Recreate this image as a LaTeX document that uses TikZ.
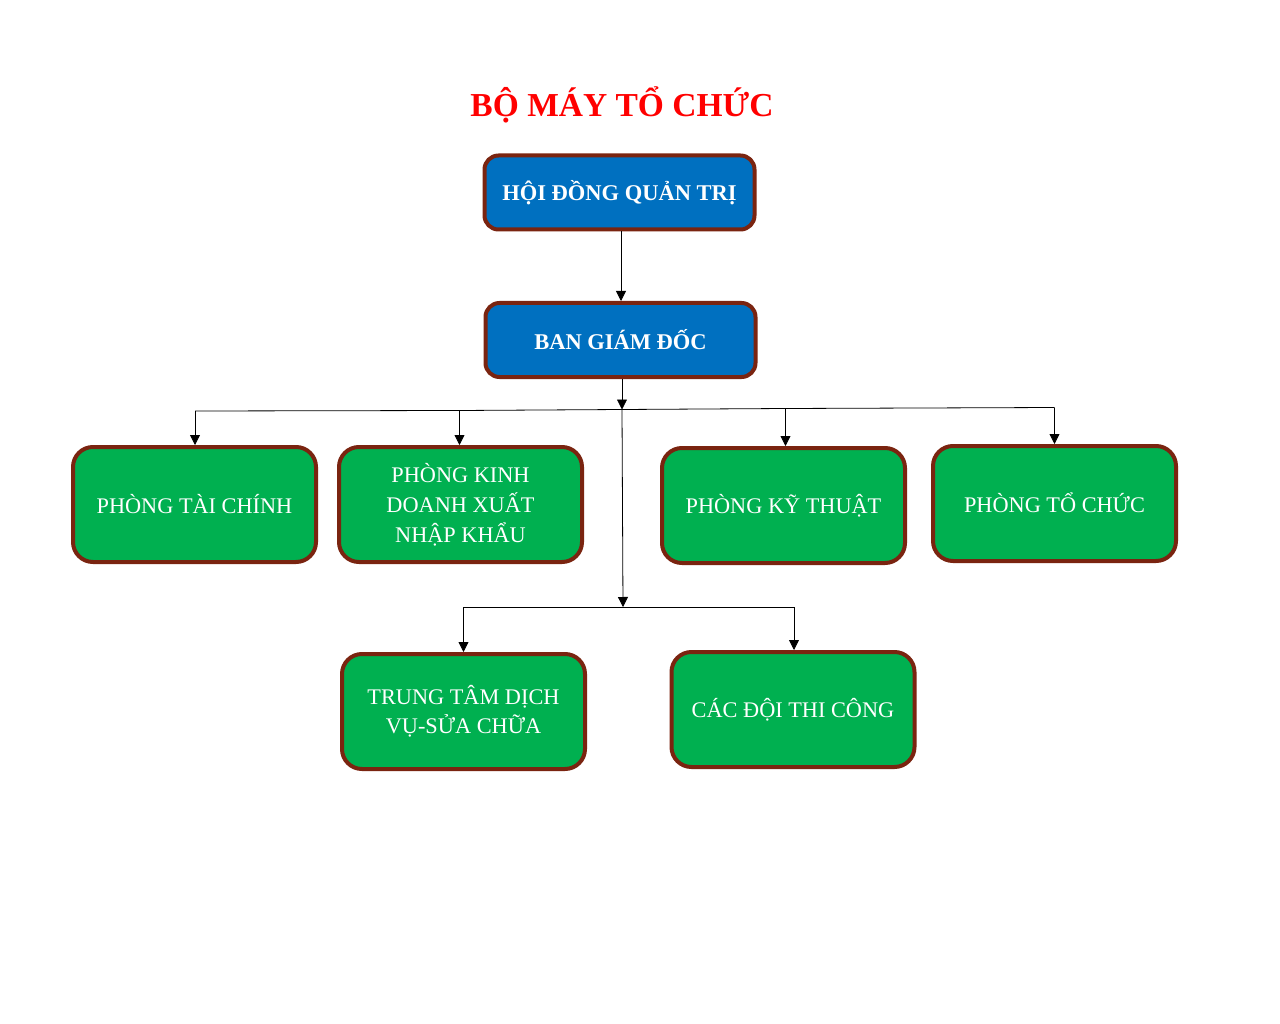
\documentclass[tikz,border=0pt]{standalone}
\usepackage{fontspec}
\setmainfont{Liberation Serif}
\usetikzlibrary{arrows.meta}
\definecolor{bluebox}{HTML}{0070C0}
\definecolor{greenbox}{HTML}{00B050}
\definecolor{brownedge}{HTML}{7A2410}
\definecolor{titlered}{HTML}{FF0000}
\begin{document}
\begin{tikzpicture}[x=1pt,y=-1pt,
  topbox/.style={draw=brownedge, line width=4pt, fill=bluebox, rounded corners=14pt,
    minimum width=270pt, minimum height=74pt, text=white, font=\fontsize{22.5}{26}\selectfont\bfseries, align=center},
  deptbox/.style={draw=brownedge, line width=4pt, fill=greenbox, rounded corners=20pt,
    minimum width=243pt, minimum height=115pt, text=white, font=\fontsize{22.3}{30}\selectfont, align=center},
  conn/.style={draw=black, line width=0.8pt},
  arr/.style={conn, -{Triangle[width=10pt,length=10pt]}}
]
\useasboundingbox (0,0) rectangle (1280,1024);
\fill[white] (0,0) rectangle (1280,1024);

\node[text=titlered, font=\fontsize{33.5}{40}\selectfont\bfseries] (title) at (622,105) {BỘ MÁY TỔ CHỨC};

\node[topbox] (hdqt) at (619.5,192.5) {HỘI ĐỒNG QUẢN TRỊ};
\node[topbox] (bgd) at (620.5,340) {\raisebox{2pt}{BAN GIÁM ĐỐC}};

\node[deptbox] (tc) at (194.5,504.5) {\raisebox{2pt}{PHÒNG TÀI CHÍNH}};
\node[deptbox] (kd) at (460.5,504.5) {PHÒNG KINH\\DOANH XUẤT\\NHẬP KHẨU};
\node[deptbox] (kt) at (783.5,505.5) {\raisebox{2pt}{PHÒNG KỸ THUẬT}};
\node[deptbox] (tochuc) at (1054.5,503.5) {\raisebox{2pt}{PHÒNG TỔ CHỨC}};
\node[deptbox] (ttdv) at (463.5,711.5) {\raisebox{2pt}{\shortstack{TRUNG TÂM DỊCH\\[3pt]VỤ-SỬA CHỮA}}};
\node[deptbox] (cdtc) at (793,709.5) {\raisebox{2pt}{CÁC ĐỘI THI CÔNG}};

% junctions
\coordinate (j1) at (622,409.5);
\coordinate (j1l) at (195,411);
\coordinate (j1a) at (459.5,410.5);
\coordinate (j1b) at (785.5,408.5);
\coordinate (j1r) at (1054.5,407.5);
\coordinate (j2) at (623,607);
\coordinate (j2l) at (463.5,607);
\coordinate (j2r) at (794,607);

\draw[arr] (hdqt.south -| 621,0) -- (bgd.north -| 621,0);
\draw[arr] (bgd.south -| j1) -- (j1);
\draw[conn] (j1l) -- (j1a) -- (j1) -- (j1b) -- (j1r);
\draw[arr] (j1l) -- (tc.north -| j1l);
\draw[arr] (j1a) -- (kd.north -| j1a);
\draw[arr] (j1b) -- (kt.north -| j1b);
\draw[arr] (j1r) -- (tochuc.north -| j1r);
\draw[arr] (j1) -- (j2);
\draw[conn] (j2l) -- (j2r);
\draw[arr] (j2l) -- (ttdv.north -| j2l);
\draw[arr] (j2r) -- (cdtc.north -| j2r);
\end{tikzpicture}
\end{document}
